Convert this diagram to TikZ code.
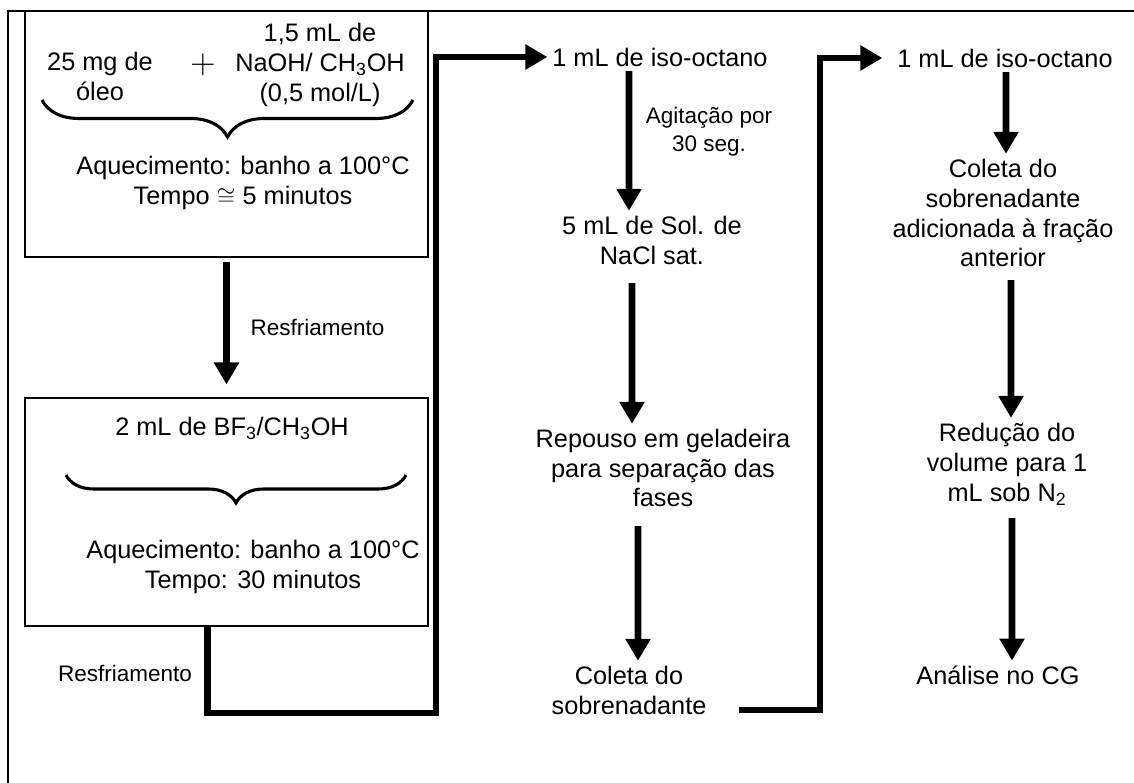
\documentclass[tikz,border=0pt]{standalone}
\usepackage{fontspec}
\setmainfont{Liberation Sans}
\usepackage{tikz}
\usetikzlibrary{positioning, arrows.meta, calc, decorations.pathreplacing}

\newcommand{\mainsz}{\fontsize{18}{21.3}\selectfont}
\newcommand{\smallsz}{\fontsize{16}{20}\selectfont}

\begin{document}
\begin{tikzpicture}[
    >={Triangle[length=5.5mm, width=6mm]},
    box/.style={draw, line width=1pt, minimum width=10.075cm},
    txt/.style={align=center, font=\mainsz},
    small/.style={align=center, font=\smallsz},
    flow/.style={->, line width=1.7mm},
    brc/.style={decorate, decoration={brace, mirror, amplitude=#1}, line width=2.2pt}
]
    \useasboundingbox (0,0) rectangle (28.35,19.575);

    % Frame (left and top edges only)
    \draw[line width=1pt] (0.2,0) |- (28.35,19.3);

    % First box: saponification
    \node[box, minimum height=6.15cm] (b1) at (5.6625, 16.225) {};
    \node[txt] (oleo) at (2.5, 17.675)  {25 mg de\\óleo};
    \node[txt, font=\fontsize{23}{23}\selectfont] (plus) at (5.075, 17.95) {$+$};
    \node[txt] (naoh) at (8.0, 17.95)   {1,5 mL de\\NaOH/ CH\textsubscript{3}OH\\(0,5 mol/L)};
    \draw[brc=9.25mm] (1.05, 17.075) -- (10.325, 17.075);
    \node[txt, font=\fontsize{18}{22}\selectfont] (aq1) at (6.075, 15.0) {Aquecimento: banho a 100°C\\Tempo $\cong$ 5 minutos};

    % Second box: esterification
    \node[box, minimum height=5.7cm] (b2) at (5.6625, 6.775) {};
    \node[txt] (bf3) at (5.8, 8.875) {2 mL de BF\textsubscript{3}/CH\textsubscript{3}OH};
    \draw[brc=7mm] (1.65, 7.7) -- (10.15, 7.7);
    \node[txt] (aq2) at (6.325, 5.4) {Aquecimento: banho a 100°C\\Tempo: 30 minutos};

    \draw[flow, shorten <=1.2mm, shorten >=3.2mm] (b1) -- node[small, right=4mm] {Resfriamento} (b2);
    \node[small] (res2) at (3.125, 2.75) {Resfriamento};

    % Extraction column
    \node[txt] (oct1) at (16.5, 18.15)   {1 mL de iso-octano};
    \node[small] (agit) at (17.725, 16.275) {Agitação por\\30 seg.};
    \node[txt] (nacl) at (16.3, 13.575)  {5 mL de Sol. de\\NaCl sat.};
    \node[txt] (rep)  at (16.575, 7.875) {Repouso em geladeira\\para separação das\\fases};
    \node[txt] (col1) at (15.725, 2.325) {Coleta do\\sobrenadante};

    \coordinate (k1) at (10.9, 1.75);
    \draw[flow] ($(b2.south west)+(4.575,0)$) |- (k1) |- (oct1.west);
    \draw[flow] ([xshift=-7.75mm]oct1.south) -- ([xshift=-5.75mm]nacl.north);
    \draw[flow, shorten <=3.5mm] ([xshift=-5mm]nacl.south) -- ([xshift=-7.75mm]rep.north);
    \draw[flow, shorten <=3.5mm] ([xshift=-6.25mm]rep.south) -- ([xshift=2.25mm]col1.north);

    % Second extraction column
    \node[txt] (oct2) at (25.125, 18.125) {1 mL de iso-octano};
    \node[txt] (col2) at (25.075, 14.25)  {Coleta do\\sobrenadante\\adicionada à fração\\anterior};
    \node[txt] (red)  at (25.175, 7.975)  {Redução do\\volume para 1\\mL sob N\textsubscript{2}};
    \node[txt] (cg)   at (24.95, 2.7)     {Análise no CG};

    \coordinate (k2) at (20.5, 1.825);
    \draw[flow, shorten >=2.5mm] ([shift={(7mm,-5mm)}]col1.east) -- (k2) |- (oct2.west);
    \draw[flow] ([xshift=0.25mm]oct2.south) -- ([xshift=0.75mm]col2.north);
    \draw[flow, shorten <=2mm] ([xshift=2mm]col2.south) -- ([xshift=1mm]red.north);
    \draw[flow, shorten <=2mm] ([xshift=1.25mm]red.south) -- ([xshift=3.5mm]cg.north);
\end{tikzpicture}
\end{document}
